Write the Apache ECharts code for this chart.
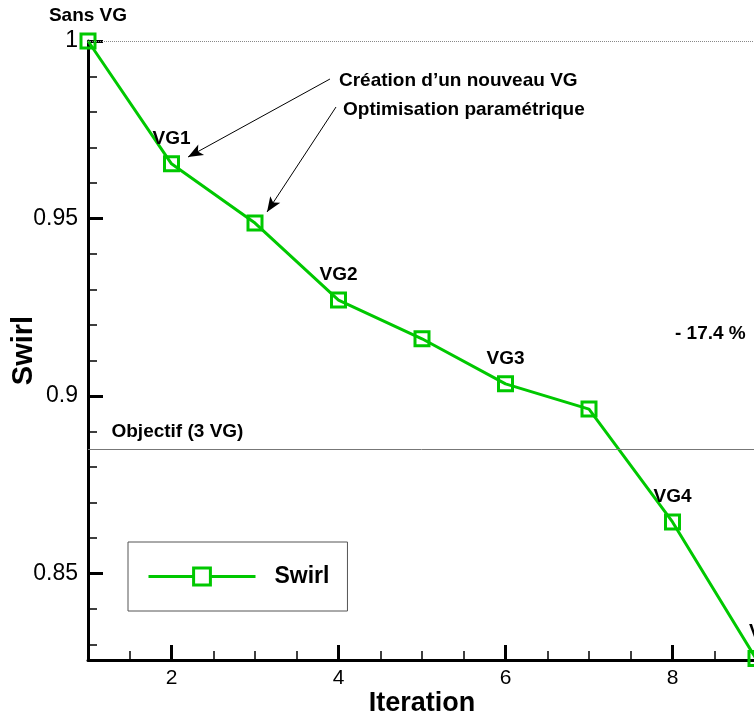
<!DOCTYPE html>
<html><head><meta charset="utf-8">
<script src="https://cdn.jsdelivr.net/npm/echarts@6/dist/echarts.min.js"></script>
<style>html,body{margin:0;padding:0;background:#fff}#c{width:754px;height:715px}</style>
</head><body><div id="c"></div>
<script>
const iterations = [1, 2, 3, 4, 5, 6, 7, 8, 9];
const swirl = [1.0, 0.9654, 0.9487, 0.9270, 0.9161, 0.9034, 0.8963, 0.8645, 0.826];
const pointLabels = ['Sans VG', 'VG1', '', 'VG2', '', 'VG3', '', 'VG4', 'VG5'];
const xTickLabels = [2, 4, 6, 8];
const xMinorTicks = [1.5, 2.5, 3, 3.5, 4.5, 5, 5.5, 6.5, 7, 7.5, 8.5];
const yTickLabels = [0.85, 0.9, 0.95, 1];
const yMinorTicks = [0.83, 0.84, 0.86, 0.87, 0.88, 0.89, 0.91, 0.92, 0.93, 0.94, 0.96, 0.97, 0.98, 0.99];
const xRange = [1, 9];
const yRange = [0.8256, 1];
const referenceLevel = 1.0;
const objectiveLevel = 0.885;
const objectiveText = 'Objectif (3 VG)';
const objectiveTextAt = [1.281, 0.8898];
const reductionText = '- 17.4 %';
const reductionTextAt = [8.03, 0.9174];
const arrowTexts = ['Création d’un nouveau VG', 'Optimisation paramétrique'];
const arrowTextAt = [[4.006, 0.9888], [4.054, 0.9805]];
const arrowFrom = [[3.898, 0.98929], [3.970, 0.98140]];
const arrowTo = [[2.198, 0.96731], [3.144, 0.95182]];

const FONT = 'Liberation Sans, Arial, sans-serif';
const GREEN = '#00c800';
const chart = echarts.init(document.getElementById('c'), null, {renderer: 'canvas'});

const seriesData = iterations.map((x, i) => {
  const item = {value: [x, swirl[i]]};
  if (i === iterations.length - 1) item.label = {offset: [12, -2]};
  return item;
});

const markData = [
  {yAxis: referenceLevel, lineStyle: {type: 'dotted', color: '#888', width: 1}},
  {yAxis: objectiveLevel, lineStyle: {type: 'solid', color: '#777', width: 1}}
];
arrowFrom.forEach((f, i) => {
  markData.push([
    {coord: f, symbol: 'none', lineStyle: {color: '#000', width: 1, type: 'solid'}},
    {coord: arrowTo[i], symbol: 'arrow', symbolSize: [9, 15]}
  ]);
});

chart.setOption({
  animation: false,
  backgroundColor: '#fff',
  textStyle: {fontFamily: FONT},
  grid: {left: 88, right: -2, top: 41, bottom: 55, containLabel: false, outerBoundsMode: 'none'},
  legend: {
    left: 128, top: 542, orient: 'horizontal',
    padding: [23, 18, 23, 19],
    borderColor: '#555', borderWidth: 1, backgroundColor: '#fff',
    itemWidth: 107, itemHeight: 21,
    lineStyle: {color: GREEN, width: 3},
    itemStyle: {color: '#fff', borderColor: GREEN, borderWidth: 3},
    textStyle: {fontSize: 23, fontWeight: 'bold', color: '#000', fontFamily: FONT, padding: [0, 0, 0, 14]},
    data: ['Swirl']
  },
  xAxis: [
    {
      type: 'value', min: xRange[0], max: xRange[1], position: 'bottom',
      axisLine: {show: true, onZero: false, lineStyle: {color: '#000', width: 3}},
      axisTick: {show: true, inside: true, length: 15, lineStyle: {color: '#000', width: 3}, customValues: xTickLabels},
      axisLabel: {customValues: xTickLabels, fontSize: 21, color: '#000', margin: 8, fontFamily: FONT},
      splitLine: {show: false},
      name: 'Iteration', nameLocation: 'middle', nameGap: 30, nameMoveOverlap: false,
      nameTextStyle: {fontSize: 27, fontWeight: 'bold', color: '#000', fontFamily: FONT}
    },
    {
      type: 'value', min: xRange[0], max: xRange[1], position: 'bottom',
      axisLine: {show: false, onZero: false},
      axisTick: {show: true, inside: true, length: 9, lineStyle: {color: '#000', width: 1.5}, customValues: xMinorTicks},
      axisLabel: {show: false}, splitLine: {show: false}
    }
  ],
  yAxis: [
    {
      type: 'value', min: yRange[0], max: yRange[1], position: 'left',
      axisLine: {show: true, onZero: false, lineStyle: {color: '#000', width: 3}},
      axisTick: {show: true, inside: true, length: 15, lineStyle: {color: '#000', width: 3}, customValues: yTickLabels},
      axisLabel: {customValues: yTickLabels, fontSize: 23, color: '#000', margin: 10, fontFamily: FONT,
        formatter: v => String(+v.toFixed(2))},
      splitLine: {show: false},
      name: 'Swirl', nameLocation: 'middle', nameGap: 50, nameMoveOverlap: false,
      nameTextStyle: {fontSize: 29, fontWeight: 'bold', color: '#000', fontFamily: FONT}
    },
    {
      type: 'value', min: yRange[0], max: yRange[1], position: 'left',
      axisLine: {show: false, onZero: false},
      axisTick: {show: true, inside: true, length: 9, lineStyle: {color: '#000', width: 1.5}, customValues: yMinorTicks},
      axisLabel: {show: false}, splitLine: {show: false}
    }
  ],
  series: [{
    name: 'Swirl', type: 'line', xAxisIndex: 0, yAxisIndex: 0,
    data: seriesData,
    clip: false,
    symbol: 'rect', symbolSize: 14,
    lineStyle: {color: GREEN, width: 3},
    itemStyle: {color: 'rgba(0,0,0,0)', borderColor: GREEN, borderWidth: 3},
    label: {
      show: true, position: 'top', distance: 7,
      formatter: p => pointLabels[p.dataIndex],
      fontSize: 19, fontWeight: 'bold', color: '#000', fontFamily: FONT
    },
    emphasis: {disabled: true},
    z: 3,
    markLine: {silent: true, symbol: 'none', precision: 6, label: {show: false}, animation: false, data: markData}
  }]
});

function px(p) { return chart.convertToPixel({xAxisIndex: 0, yAxisIndex: 0}, p); }
const textStyleBase = {fontSize: 19, fontWeight: 'bold', fill: '#000', fontFamily: FONT, verticalAlign: 'middle', align: 'left'};
const graphics = [];
arrowTexts.forEach((t, i) => {
  const p = px(arrowTextAt[i]);
  graphics.push({type: 'text', x: p[0], y: p[1], style: Object.assign({text: t}, textStyleBase)});
});
const po = px(objectiveTextAt);
graphics.push({type: 'text', x: po[0], y: po[1], style: Object.assign({text: objectiveText}, textStyleBase)});
const pr = px(reductionTextAt);
graphics.push({type: 'text', x: pr[0], y: pr[1], style: Object.assign({text: reductionText}, textStyleBase)});
chart.setOption({graphic: graphics});
</script>
</body></html>
